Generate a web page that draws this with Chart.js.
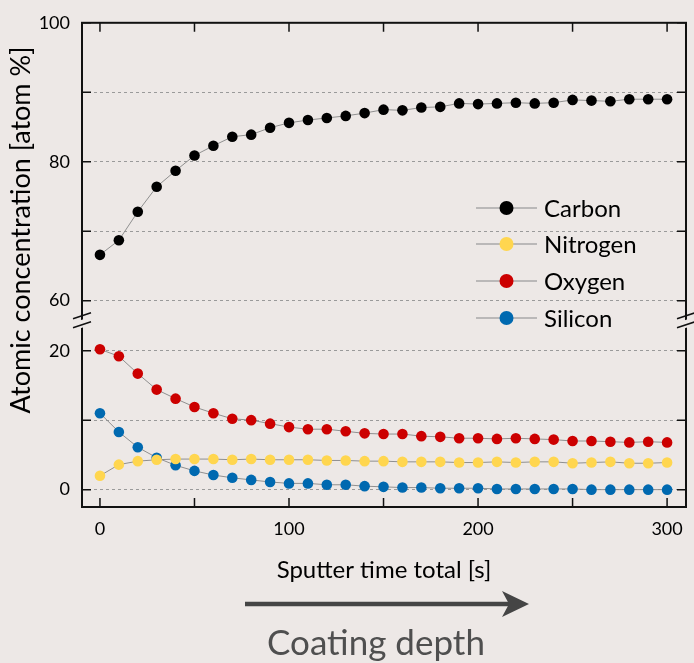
<!DOCTYPE html>
<html>
<head>
<meta charset="utf-8">
<script src="https://cdn.jsdelivr.net/npm/chart.js@4.4.1/dist/chart.umd.min.js"></script>
<style>
html,body{margin:0;padding:0;background:#ede8e6;}
#wrap{width:694px;height:663px;}
</style>
</head>
<body>
<div id="wrap"><canvas id="chart"></canvas></div>
<script>
var times = [0,10,20,30,40,50,60,70,80,90,100,110,120,130,140,150,160,170,180,190,200,210,220,230,240,250,260,270,280,290,300];
var carbon = [66.6,68.7,72.8,76.4,78.7,80.9,82.3,83.6,83.9,84.9,85.6,86.0,86.3,86.6,87.0,87.5,87.4,87.8,87.9,88.4,88.3,88.4,88.5,88.4,88.5,88.9,88.8,88.7,89.0,89.0,89.0];
var nitrogen = [2.0,3.6,4.1,4.3,4.4,4.4,4.4,4.3,4.4,4.3,4.3,4.3,4.2,4.2,4.1,4.1,4.0,4.0,4.0,3.9,3.9,4.0,3.9,4.0,4.0,3.8,3.9,4.0,3.8,3.8,3.9];
var oxygen = [20.2,19.2,16.7,14.4,13.1,11.9,11.0,10.2,10.0,9.5,9.0,8.7,8.7,8.4,8.1,8.0,8.0,7.7,7.6,7.4,7.4,7.3,7.4,7.3,7.2,7.0,7.0,6.9,6.8,6.9,6.8];
var silicon = [11.0,8.3,6.1,4.6,3.5,2.7,2.1,1.7,1.4,1.1,0.9,0.9,0.7,0.7,0.5,0.4,0.3,0.3,0.2,0.2,0.2,0.1,0.1,0.1,0.1,0.1,0.0,0.0,0.0,0.0,0.0];
var seriesNames = ['Carbon','Nitrogen','Oxygen','Silicon'];
var seriesColors = ['#000000','#ffd64f','#cc0000','#0069b0'];

var FONT = 'Lato, "Open Sans", sans-serif';
var BG = '#ede8e6';

function pts(arr){
	return arr.map(function(v,i){ return {x:times[i], y:v}; });
}

function makeSet(i, arr, axis){
	return {
		label: seriesNames[i],
		data: pts(arr),
		yAxisID: axis,
		borderColor: '#8f8f8f',
		borderWidth: 1,
		pointRadius: 5.3,
		pointHoverRadius: 5.3,
		pointBorderWidth: 0,
		pointBackgroundColor: seriesColors[i],
		pointBorderColor: seriesColors[i],
		tension: 0
	};
}

// frame, inward ticks, axis break, legend and titles
var extras = {
	id: 'extras',
	afterDraw: function(chart){
		var ctx = chart.ctx;
		var a = chart.chartArea;
		var xs = chart.scales.x, lo = chart.scales.y, hi = chart.scales.y2;
		ctx.save();

		// ticks
		ctx.strokeStyle = '#111';
		ctx.lineWidth = 1.5;
		ctx.beginPath();
		[lo, hi].forEach(function(s){
			s.ticks.forEach(function(t){
				var py = s.getPixelForValue(t.value);
				ctx.moveTo(a.left, py); ctx.lineTo(a.left + 9, py);
				ctx.moveTo(a.right, py); ctx.lineTo(a.right - 9, py);
			});
		});
		xs.ticks.forEach(function(t){
			var px = xs.getPixelForValue(t.value);
			ctx.moveTo(px, a.bottom); ctx.lineTo(px, a.bottom - 9);
			ctx.moveTo(px, a.top); ctx.lineTo(px, a.top + 9);
		});
		ctx.stroke();

		// frame
		ctx.lineWidth = 2;
		ctx.strokeRect(a.left, a.top, a.right - a.left, a.bottom - a.top);

		// axis break marks
		var by = lo.top;
		[a.left, a.right].forEach(function(bx){
			ctx.fillStyle = BG;
			ctx.beginPath();
			ctx.moveTo(bx - 9, by + 2); ctx.lineTo(bx + 9, by - 4);
			ctx.lineTo(bx + 9, by + 4); ctx.lineTo(bx - 9, by + 10);
			ctx.closePath();
			ctx.fill();
			ctx.lineWidth = 1.5;
			ctx.strokeStyle = '#111';
			ctx.beginPath();
			ctx.moveTo(bx - 9, by - 2); ctx.lineTo(bx + 9, by - 8);
			ctx.moveTo(bx - 9, by + 7); ctx.lineTo(bx + 9, by + 1);
			ctx.stroke();
		});

		// legend
		var rows = [208, 244, 281, 318];
		chart.data.datasets.forEach(function(ds, i){
			var ly = rows[i];
			ctx.strokeStyle = '#a8a8a8';
			ctx.lineWidth = 1.5;
			ctx.beginPath();
			ctx.moveTo(476, ly); ctx.lineTo(537, ly);
			ctx.stroke();
			ctx.fillStyle = ds.pointBackgroundColor;
			ctx.beginPath();
			ctx.arc(506.5, ly, 7, 0, Math.PI * 2);
			ctx.fill();
			ctx.fillStyle = '#000';
			ctx.font = '24px ' + FONT;
			ctx.textAlign = 'left';
			ctx.textBaseline = 'middle';
			ctx.fillText(ds.label, 544, ly + 1);
		});

		// y title
		ctx.save();
		ctx.translate(21, 230);
		ctx.rotate(-Math.PI / 2);
		ctx.fillStyle = '#000';
		ctx.font = '27px ' + FONT;
		ctx.textAlign = 'center';
		ctx.textBaseline = 'middle';
		ctx.fillText('Atomic concentration [atom %]', 0, 0);
		ctx.restore();

		// x title
		ctx.fillStyle = '#000';
		ctx.font = '24px ' + FONT;
		ctx.textAlign = 'center';
		ctx.textBaseline = 'alphabetic';
		ctx.fillText('Sputter time total [s]', (a.left + a.right) / 2, 578);

		// arrow
		ctx.strokeStyle = '#454545';
		ctx.fillStyle = '#454545';
		ctx.lineWidth = 4.5;
		ctx.beginPath();
		ctx.moveTo(245, 604); ctx.lineTo(512, 604);
		ctx.stroke();
		ctx.beginPath();
		ctx.moveTo(502, 591); ctx.lineTo(529, 604); ctx.lineTo(502, 617); ctx.lineTo(509, 604);
		ctx.closePath();
		ctx.fill();

		// depth label
		ctx.fillStyle = '#4f4f4f';
		ctx.font = '35px ' + FONT;
		ctx.textAlign = 'center';
		ctx.fillText('Coating depth', 376, 655);

		ctx.restore();
	}
};

var tickFont = {family: FONT, size: 18};

new Chart(document.getElementById('chart'), {
	type: 'line',
	data: {
		datasets: [
			makeSet(0, carbon, 'y2'),
			makeSet(1, nitrogen, 'y'),
			makeSet(2, oxygen, 'y'),
			makeSet(3, silicon, 'y')
		]
	},
	options: {
		responsive: true,
		maintainAspectRatio: false,
		animation: false,
		layout: {padding: {top: 19, right: 8, left: 0, bottom: 0}},
		plugins: {legend: {display: false}, tooltip: {enabled: false}},
		scales: {
			x: {
				type: 'linear',
				min: -9.5,
				max: 310,
				grid: {display: false, drawTicks: false},
				border: {display: false},
				ticks: {
					stepSize: 50,
					includeBounds: false,
					padding: 11,
					maxRotation: 0,
					color: '#000',
					font: tickFont,
					callback: function(v){ return v % 100 === 0 ? v : ''; }
				},
				afterFit: function(s){ s.height = 156; }
			},
			y: {
				type: 'linear',
				position: 'left',
				stack: 'conc',
				stackWeight: 26.8,
				min: -2.5,
				max: 24.3,
				grid: {color: '#9a9a9a', lineWidth: 1, drawTicks: false},
				border: {display: false, dash: [3, 3]},
				ticks: {
					stepSize: 10,
					includeBounds: false,
					padding: 12,
					color: '#000',
					font: tickFont,
					callback: function(v){ return v % 20 === 0 ? v : ''; }
				},
				afterFit: function(s){ s.width = 82; }
			},
			y2: {
				type: 'linear',
				position: 'left',
				stack: 'conc',
				stackWeight: 42.9,
				min: 57.1,
				max: 100,
				grid: {color: '#9a9a9a', lineWidth: 1, drawTicks: false},
				border: {display: false, dash: [3, 3]},
				ticks: {
					stepSize: 10,
					includeBounds: false,
					padding: 12,
					color: '#000',
					font: tickFont,
					callback: function(v){ return v % 20 === 0 ? v : ''; }
				},
				afterFit: function(s){ s.width = 82; }
			}
		}
	},
	plugins: [extras]
});
</script>
</body>
</html>
